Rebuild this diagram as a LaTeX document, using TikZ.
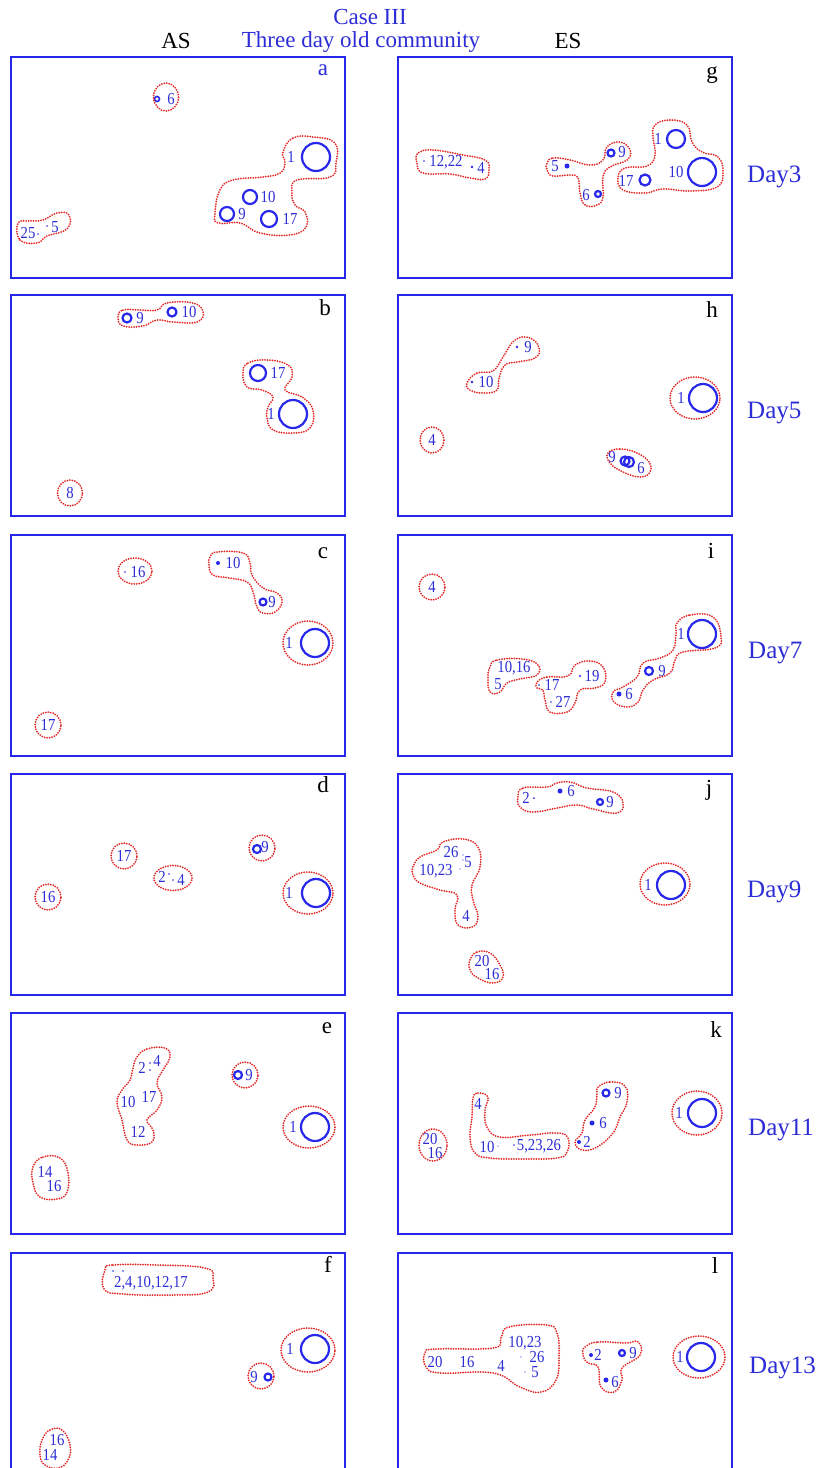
\documentclass[tikz,border=0pt]{standalone}
\usepackage{fontspec}
\setmainfont{Liberation Serif}
\definecolor{bx}{RGB}{40,40,235}
\definecolor{lb}{RGB}{45,45,215}
\definecolor{rd}{RGB}{228,40,40}
\newcommand\myring[3]{\draw[ring] (#1,#2) circle (#3pt);}
\newcommand\mydot[3]{\fill[dotc] (#1,#2) circle (#3pt);}
\newcommand\mylab[4]{\node[lab] (#1) at (#2,#3) {\scalebox{0.92}[1.05]{#4}};}
\newcommand\mycl[1]{\draw[clus] plot[smooth cycle,tension=0.75] coordinates {#1};}
\newcommand\myell[4]{\draw[clus] (#1,#2) ellipse [x radius=#3pt, y radius=#4pt];}
\begin{document}
\begin{tikzpicture}[x=1pt,y=-1pt,
 box/.style={draw=bx,line width=2.4pt,minimum width=334pt,minimum height=221pt,anchor=north west,inner sep=0pt},
 lab/.style={text=lb,font=\fontsize{16}{16}\selectfont,inner sep=0pt},
 plet/.style={font=\fontsize{23}{23}\selectfont,inner sep=0pt,anchor=base},
 day/.style={text=lb,font=\fontsize{25}{25}\selectfont,inner sep=0pt,anchor=base west},
 hdr/.style={font=\fontsize{23}{23}\selectfont,inner sep=0pt,anchor=base},
 ring/.style={draw=bx,line width=2.2pt},
 dotc/.style={fill=bx},
 clus/.style={draw=rd,line width=2pt,dash pattern=on 0pt off 2.5pt,line cap=round},
]
\useasboundingbox (0,0) rectangle (819,1468);
\clip (0,0) rectangle (819,1468);
\fill[white] (0,0) rectangle (819,1468);
% headers
\node[hdr,text=lb] (case) at (370,24) {Case III};
\node[hdr,text=lb] (three) at (361,47) {Three day old community};
\node[hdr] (as) at (176,48) {AS};
\node[hdr] (es) at (568,48) {ES};
% boxes
\node[box] (pa) at (10,56) {};
\node[box] (pg) at (397,56) {};
\node[box] (pb) at (10,294) {};
\node[box] (ph) at (397,294) {};
\node[box] (pc) at (10,534) {};
\node[box] (pi) at (397,534) {};
\node[box] (pd) at (10,773) {};
\node[box] (pj) at (397,773) {};
\node[box] (pe) at (10,1012) {};
\node[box] (pk) at (397,1012) {};
\node[box] (pf) at (10,1252) {};
\node[box] (pl) at (397,1252) {};
% panel letters
\node[plet,text=lb] (la) at (323,75) {a};
\node[plet] (lbb) at (325,315) {b};
\node[plet] (lc) at (323,558) {c};
\node[plet] (ld) at (323,792) {d};
\node[plet] (le) at (327,1033) {e};
\node[plet] (lf) at (328,1272) {f};
\node[plet] (lg) at (712,78) {g};
\node[plet] (lh) at (712,317) {h};
\node[plet] (li) at (711,558) {i};
\node[plet] (lj) at (709,795) {j};
\node[plet] (lk) at (716,1037) {k};
\node[plet] (ll) at (715,1273) {l};
% day labels
\node[day] (d3) at (747,182) {Day3};
\node[day] (d5) at (747,418) {Day5};
\node[day] (d7) at (748,658) {Day7};
\node[day] (d9) at (747,897) {Day9};
\node[day] (d11) at (748,1135) {Day11};
\node[day] (d13) at (749,1373) {Day13};
% ---------- panel a
\begin{scope}[ring/.append style={line width=1.6pt}]\myring{157}{99}{2.5}\end{scope}
\mylab{a6}{171}{99}{6}
\myell{166}{97}{12.5}{14}
\myring{316}{157}{14}\mylab{a1}{291}{157}{1}
\myring{250}{197}{7}\mylab{a10}{268}{197}{10}
\myring{227}{214}{7}\mylab{a9}{242}{214}{9}
\myring{269}{219}{8}\mylab{a17}{290}{219}{17}
\mycl{(283,152)(293,138)(313,137)(335,143)(336,163)(330,177)(297,180)(292,192)(295,205)(305,212)(306,227)(290,235)(260,233)(240,223)(218,223)(215,213)(220,190)(233,180)(263,177)(280,173)(285,163)}
\mylab{a25}{28}{233}{25}\mydot{38}{234}{0.9}\mydot{47}{226}{0.9}\mylab{a5}{55}{227}{5}
\mycl{(18,223)(20,240)(37,243)(47,236)(67,229)(69,215)(57,213)(43,220)(30,221)}
% ---------- panel g
\mydot{424}{161}{0.9}\mylab{g1222}{446}{162}{12,22}\mydot{472}{167}{1.3}\mylab{g4}{481}{168}{4}
\mycl{(418,153)(433,150)(463,155)(485,160)(489,170)(485,179)(470,178)(450,174)(423,173)(417,163)}
\mydot{567}{166}{2.5}\mylab{g5}{555}{166}{5}
\myring{611}{153}{3.5}\mylab{g9}{622}{152}{9}
\myring{598}{194}{3}\mylab{g6}{586}{195}{6}
\mycl{(547,163)(553,158)(570,160)(590,165)(603,160)(607,147)(620,142)(630,150)(627,160)(610,167)(603,177)(603,197)(597,205)(585,205)(580,193)(578,178)(570,175)(553,176)(547,170)}
\myring{676}{139}{9}\mylab{g1}{658}{139}{1}
\myring{702}{172}{14}\mylab{g10}{676}{172}{10}
\myring{645}{180}{5.5}\mylab{g17}{626}{181}{17}
\mycl{(655,125)(670,120)(687,125)(692,142)(702,152)(718,157)(723,172)(717,187)(690,191)(663,189)(645,193)(623,190)(618,178)(625,168)(647,166)(655,155)(653,137)}
% ---------- panel b
\myring{127}{318}{4.5}\mylab{b9}{140}{318}{9}
\myring{172}{312}{4.5}\mylab{b10}{189}{312}{10}
\mycl{(118,317)(123,310)(140,310)(157,310)(167,303)(193,303)(203,312)(197,322)(173,322)(157,320)(143,326)(123,326)}
\myring{258}{373}{8}\mylab{b17}{278}{373}{17}
\myring{293}{414}{14}\mylab{b1}{271}{414}{1}
\mycl{(243,373)(248,363)(267,360)(288,365)(292,377)(285,390)(302,397)(313,410)(310,428)(293,433)(273,430)(267,418)(268,407)(273,397)(262,390)(247,387)}
\mylab{b8}{70}{493}{8}\myell{70}{493}{12.5}{13}
% ---------- panel h
\mydot{517}{347}{1.3}\mylab{h9}{528}{347}{9}
\mydot{472}{382}{1.3}\mylab{h10}{486}{382}{10}
\mycl{(467,383)(477,373)(493,371)(503,357)(515,340)(530,338)(539,348)(535,358)(517,362)(505,365)(499,378)(497,390)(483,393)(470,390)}
\myring{703}{398}{14}\mylab{h1}{681}{398}{1}\myell{695}{398}{25}{21}
\mylab{h4}{432}{440}{4}\myell{432}{440}{12}{13}
\mylab{h9b}{612}{457}{9}\myring{625}{461}{4.5}\myring{629}{462}{5}\mylab{h6}{641}{468}{6}
\mycl{(608,453)(620,449)(637,453)(649,462)(650,472)(640,477)(623,472)(610,463)}
% ---------- panel c
\mydot{125}{572}{0.8}\mylab{c16}{138}{572}{16}\myell{135}{571}{17}{13}
\mydot{218}{563}{2}\mylab{c10}{233}{563}{10}
\myring{263}{602}{3.5}\mylab{c9}{272}{602}{9}
\mycl{(210,557)(217,552)(243,553)(250,563)(252,575)(263,588)(277,593)(282,602)(275,612)(263,613)(257,607)(253,592)(247,582)(230,578)(213,575)(209,565)}
\myring{315}{643}{14}\mylab{c1}{289}{643}{1}\myell{308}{643}{25}{22}
\mylab{c17}{48}{725}{17}\myell{48}{725}{13}{13}
% ---------- panel i
\mylab{i4}{432}{587}{4}\myell{432}{587}{13}{13}
\mylab{i1016}{514}{668}{10,16}\mylab{i5}{498}{684}{5}
\mycl{(490,667)(497,660)(523,659)(538,665)(537,675)(520,679)(507,683)(500,692)(490,692)(488,678)}
\mydot{539}{685}{0.9}\mylab{i17}{552}{685}{17}
\mydot{580}{676}{1.2}\mylab{i19}{592}{676}{19}
\mydot{551}{702}{0.9}\mylab{i27}{563}{702}{27}
\mycl{(537,682)(547,677)(568,676)(575,665)(590,661)(603,667)(605,682)(595,688)(580,690)(575,703)(567,712)(550,712)(545,700)(543,690)(537,688)}
\myring{702}{634}{14}\mylab{i1}{681}{634}{1}
\myring{649}{671}{4}\mylab{i9}{662}{671}{9}
\mydot{619}{694}{2.5}\mylab{i6}{629}{694}{6}
\mycl{(677,623)(690,615)(713,617)(721,637)(715,648)(683,652)(675,660)(670,673)(653,680)(643,690)(638,702)(627,707)(614,702)(613,692)(623,687)(637,677)(643,663)(660,658)(673,650)(676,633)}
% ---------- panel d
\mylab{d17}{124}{856}{17}\myell{124}{856}{13}{13}
\mylab{d2}{162}{877}{2}\mydot{169}{874}{0.8}\mydot{173}{880}{0.9}\mylab{d4}{181}{880}{4}\myell{173}{878}{19}{12.5}
\mylab{d16}{48}{897}{16}\myell{48}{897}{13}{13}
\myring{257}{849}{4}\mylab{d9}{265}{847}{9}\myell{262}{848}{13}{13}
\myring{316}{893}{14}\mylab{d1}{289}{893}{1}\myell{308}{893}{25}{21}
% ---------- panel j
\mylab{j2}{526}{798}{2}\mydot{534}{798}{1}\mydot{560}{791}{2.5}\mylab{j6}{571}{791}{6}
\myring{600}{802}{3}\mylab{j9}{610}{802}{9}
\mycl{(518,797)(523,788)(547,787)(557,783)(570,782)(587,788)(613,792)(623,803)(617,813)(593,809)(577,805)(557,808)(533,812)(520,807)}
\mylab{j26}{451}{852}{26}\mydot{463}{855}{0.7}\mydot{463}{860}{0.7}\mydot{460}{869}{0.7}
\mylab{j5}{468}{862}{5}\mylab{j1023}{436}{871}{10,23}\mylab{j4}{466}{916}{4}
\mycl{(413,867)(420,857)(437,850)(443,842)(463,839)(478,847)(480,867)(472,885)(473,900)(478,917)(472,927)(458,925)(455,910)(457,895)(440,890)(420,883)(413,875)}
\mylab{j20}{482}{961}{20}\mylab{j16}{492}{974}{16}
\mycl{(470,960)(477,952)(490,953)(500,965)(503,977)(493,983)(478,978)(470,970)}
\myring{671}{885}{14}\mylab{j1}{648}{885}{1}\myell{665}{884}{25}{21}
% ---------- panel e
\mylab{e2}{142}{1068}{2}\mydot{150}{1063}{0.8}\mydot{150}{1070}{0.8}\mylab{e4}{157}{1061}{4}
\mylab{e10}{128}{1102}{10}\mylab{e17}{149}{1097}{17}\mylab{e12}{138}{1132}{12}
\mycl{(137,1057)(147,1049)(165,1048)(170,1057)(163,1070)(157,1083)(162,1097)(157,1110)(147,1120)(153,1130)(152,1142)(137,1145)(127,1140)(122,1120)(117,1102)(122,1090)(130,1080)(133,1068)}
\myring{238}{1075}{4}\mylab{e9}{249}{1075}{9}\myell{245}{1075}{13}{13}
\myring{315}{1127}{14}\mylab{e1}{293}{1127}{1}\myell{309}{1127}{26}{21}
\mylab{e14}{45}{1172}{14}\mylab{e16}{54}{1186}{16}
\mycl{(33,1167)(43,1157)(60,1158)(68,1173)(67,1192)(57,1199)(40,1197)(33,1183)}
% ---------- panel k
\mylab{k20}{430}{1139}{20}\mylab{k16}{435}{1153}{16}\myell{433}{1145}{14}{16}
\mylab{k4}{478}{1104}{4}\mylab{k10}{487}{1147}{10}\mydot{498}{1146}{0.7}\mydot{514}{1145}{0.8}\mylab{k5}{539}{1146}{5,23,26}
\mycl{(473,1098)(478,1093)(488,1097)(485,1110)(487,1127)(500,1137)(530,1135)(557,1133)(568,1138)(567,1152)(557,1158)(523,1159)(490,1158)(475,1153)(470,1137)(472,1117)}
\myring{606}{1093}{3.5}\mylab{k9}{618}{1093}{9}
\mydot{592}{1123}{2.5}\mylab{k6}{603}{1123}{6}
\mydot{579}{1142}{2}\mylab{k2}{587}{1142}{2}
\mycl{(598,1087)(610,1082)(625,1086)(627,1102)(620,1117)(613,1133)(597,1147)(582,1150)(575,1142)(582,1133)(585,1120)(595,1107)(597,1093)}
\myring{702}{1113}{14}\mylab{k1}{679}{1113}{1}\myell{697}{1113}{25}{22}
% ---------- panel f
\mylab{f2}{151}{1283}{2,4,10,12,17}\mydot{113}{1271}{0.9}\mydot{123}{1271}{0.9}
\mycl{(105,1270)(113,1265)(157,1265)(205,1268)(213,1278)(208,1292)(173,1295)(123,1294)(104,1289)}
\myring{315}{1349}{14}\mylab{f1}{290}{1349}{1}\myell{308}{1350}{27}{22}
\myring{268}{1377}{3.5}\mylab{f9}{254}{1377}{9}\myell{261}{1376}{13}{13}
\mylab{f16}{57}{1440}{16}\mylab{f14}{50}{1455}{14}
\mycl{(42,1440)(50,1430)(62,1430)(70,1445)(68,1460)(58,1468)(45,1465)(40,1455)}
% ---------- panel l
\mylab{l20}{435}{1362}{20}\mylab{l16}{467}{1362}{16}\mylab{l4}{501}{1366}{4}
\mylab{l1023}{525}{1343}{10,23}\mydot{521}{1357}{0.7}\mylab{l26}{537}{1357}{26}
\mydot{525}{1372}{0.7}\mylab{l5}{535}{1372}{5}
\mycl{(425,1353)(436,1349)(493,1348)(501,1338)(509,1327)(546,1325)(557,1333)(559,1357)(556,1380)(541,1392)(520,1387)(493,1373)(441,1373)(426,1367)}
\mydot{591}{1355}{2}\mylab{l2}{598}{1355}{2}
\myring{622}{1353}{3}\mylab{l9}{633}{1353}{9}
\mydot{606}{1380}{2.5}\mylab{l6}{615}{1382}{6}
\mycl{(585,1347)(598,1342)(625,1343)(638,1342)(640,1355)(622,1368)(622,1380)(614,1392)(601,1387)(598,1367)(588,1363)(583,1355)}
\myring{701}{1357}{14}\mylab{l1}{680}{1357}{1}\myell{699}{1357}{26}{21}
\end{tikzpicture}
\end{document}
